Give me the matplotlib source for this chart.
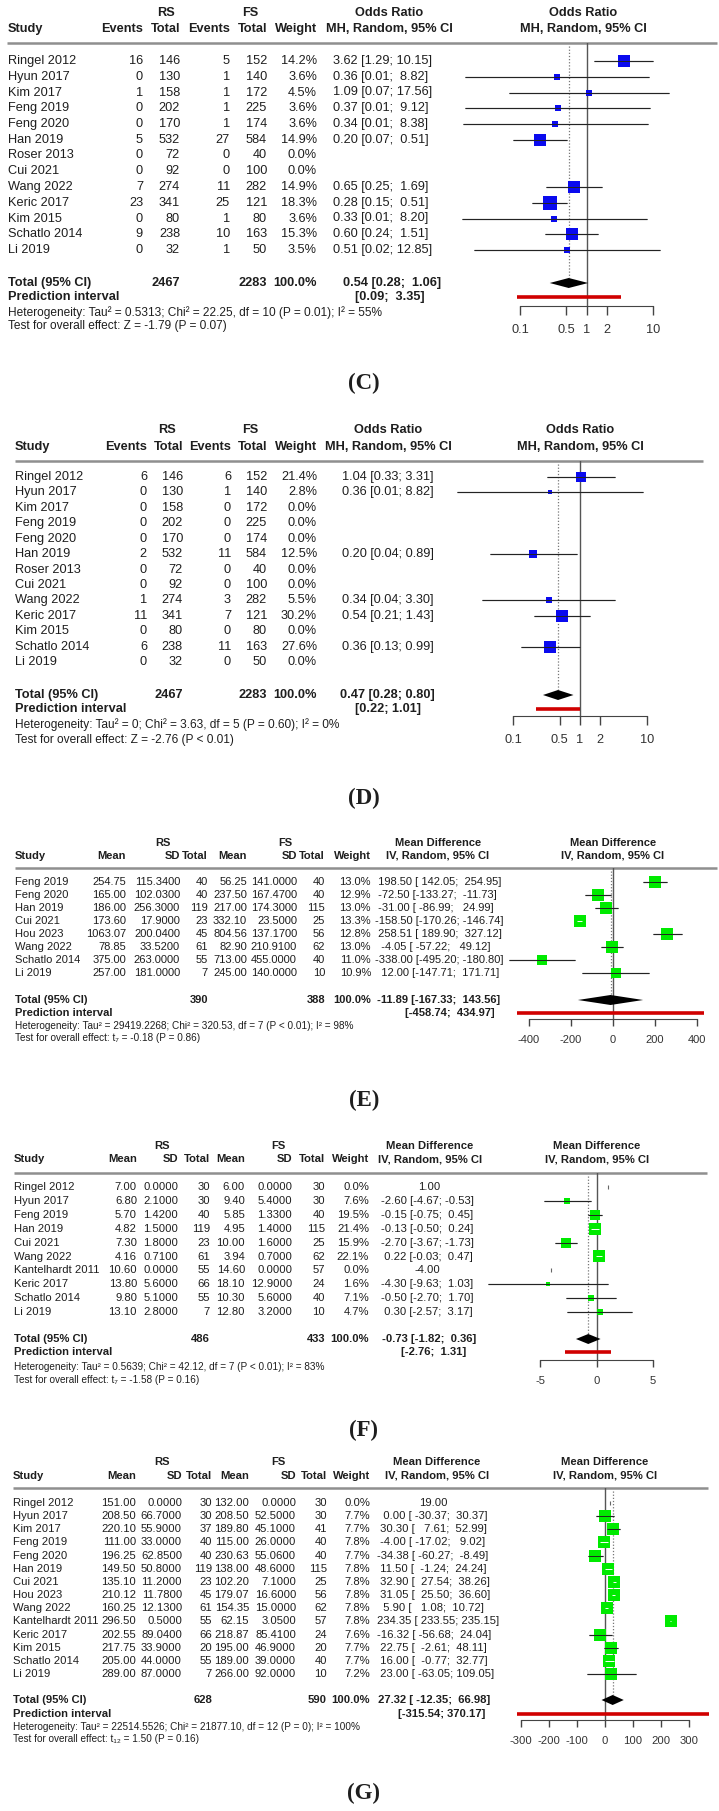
import numpy as np
import matplotlib.pyplot as plt
from matplotlib.ticker import NullLocator

W, H = 719, 1811
plt.rcParams['font.family'] = ['Liberation Sans', 'DejaVu Sans']
TXT = '#1e1e1e'
nan = np.nan

# ---------------- (C) binary outcome ----------------
studies_c = ["Ringel 2012", "Hyun 2017", "Kim 2017", "Feng 2019", "Feng 2020", "Han 2019", "Roser 2013",
             "Cui 2021", "Wang 2022", "Keric 2017", "Kim 2015", "Schatlo 2014", "Li 2019"]
rs_events_c = [16, 0, 1, 0, 0, 5, 0, 0, 7, 23, 0, 9, 0]
rs_total_c = [146, 130, 158, 202, 170, 532, 72, 92, 274, 341, 80, 238, 32]
fs_events_c = [5, 1, 1, 1, 1, 27, 0, 0, 11, 25, 1, 10, 1]
fs_total_c = [152, 140, 172, 225, 174, 584, 40, 100, 282, 121, 80, 163, 50]
weight_c = [14.2, 3.6, 4.5, 3.6, 3.6, 14.9, 0.0, 0.0, 14.9, 18.3, 3.6, 15.3, 3.5]
or_c = [3.62, 0.36, 1.09, 0.37, 0.34, 0.20, nan, nan, 0.65, 0.28, 0.33, 0.60, 0.51]
lo_c = [1.29, 0.01, 0.07, 0.01, 0.01, 0.07, nan, nan, 0.25, 0.15, 0.01, 0.24, 0.02]
hi_c = [10.15, 8.82, 17.56, 9.12, 8.38, 0.51, nan, nan, 1.69, 0.51, 8.20, 1.51, 12.85]
lo_drawn_c = [1.29, 0.0147, 0.068, 0.015, 0.0138, 0.078, nan, nan, 0.25, 0.154, 0.0133, 0.238, 0.0202]
total_c = (2467, 2283, 0.54, 0.28, 1.06)
pred_c = (0.09, 3.35)
het_c = "Heterogeneity: Tau² = 0.5313; Chi² = 22.25, df = 10 (P = 0.01); I² = 55%"
test_c = "Test for overall effect: Z = -1.79 (P = 0.07)"

# ---------------- (D) binary outcome ----------------
studies_d = studies_c
rs_events_d = [6, 0, 0, 0, 0, 2, 0, 0, 1, 11, 0, 6, 0]
rs_total_d = rs_total_c
fs_events_d = [6, 1, 0, 0, 0, 11, 0, 0, 3, 7, 0, 11, 0]
fs_total_d = fs_total_c
weight_d = [21.4, 2.8, 0.0, 0.0, 0.0, 12.5, 0.0, 0.0, 5.5, 30.2, 0.0, 27.6, 0.0]
or_d = [1.04, 0.36, nan, nan, nan, 0.20, nan, nan, 0.34, 0.54, nan, 0.36, nan]
lo_d = [0.33, 0.01, nan, nan, nan, 0.04, nan, nan, 0.04, 0.21, nan, 0.13, nan]
hi_d = [3.31, 8.82, nan, nan, nan, 0.89, nan, nan, 3.30, 1.43, nan, 0.99, nan]
lo_drawn_d = [0.327, 0.0147, nan, nan, nan, 0.045, nan, nan, 0.035, 0.204, nan, 0.131, nan]
total_d = (2467, 2283, 0.47, 0.28, 0.80)
pred_d = (0.22, 1.01)
het_d = "Heterogeneity: Tau² = 0; Chi² = 3.63, df = 5 (P = 0.60); I² = 0%"
test_d = "Test for overall effect: Z = -2.76 (P < 0.01)"

# ---------------- (E) continuous outcome ----------------
studies_e = ["Feng 2019", "Feng 2020", "Han 2019", "Cui 2021", "Hou 2023", "Wang 2022", "Schatlo 2014", "Li 2019"]
rs_mean_e = [254.75, 165.00, 186.00, 173.60, 1063.07, 78.85, 375.00, 257.00]
rs_sd_e = [115.34, 102.03, 256.30, 17.90, 200.04, 33.52, 263.00, 181.00]
rs_n_e = [40, 40, 119, 23, 45, 61, 55, 7]
fs_mean_e = [56.25, 237.50, 217.00, 332.10, 804.56, 82.90, 713.00, 245.00]
fs_sd_e = [141.00, 167.47, 174.30, 23.50, 137.17, 210.91, 455.00, 140.00]
fs_n_e = [40, 40, 115, 25, 56, 62, 40, 10]
weight_e = [13.0, 12.9, 13.0, 13.3, 12.8, 13.0, 11.0, 10.9]
md_e = [198.50, -72.50, -31.00, -158.50, 258.51, -4.05, -338.00, 12.00]
lo_e = [142.05, -133.27, -86.99, -170.26, 189.90, -57.22, -495.20, -147.71]
hi_e = [254.95, -11.73, 24.99, -146.74, 327.12, 49.12, -180.80, 171.71]
total_e = (390, 388, -11.89, -167.33, 143.56)
pred_e = (-458.74, 434.97)
het_e = "Heterogeneity: Tau² = 29419.2268; Chi² = 320.53, df = 7 (P < 0.01); I² = 98%"
test_e = "Test for overall effect: t₇ = -0.18 (P = 0.86)"

# ---------------- (F) continuous outcome ----------------
studies_f = ["Ringel 2012", "Hyun 2017", "Feng 2019", "Han 2019", "Cui 2021", "Wang 2022", "Kantelhardt 2011",
             "Keric 2017", "Schatlo 2014", "Li 2019"]
rs_mean_f = [7.00, 6.80, 5.70, 4.82, 7.30, 4.16, 10.60, 13.80, 9.80, 13.10]
rs_sd_f = [0.0, 2.10, 1.42, 1.50, 1.80, 0.71, 0.0, 5.60, 5.10, 2.80]
rs_n_f = [30, 30, 40, 119, 23, 61, 55, 66, 55, 7]
fs_mean_f = [6.00, 9.40, 5.85, 4.95, 10.00, 3.94, 14.60, 18.10, 10.30, 12.80]
fs_sd_f = [0.0, 5.40, 1.33, 1.40, 1.60, 0.70, 0.0, 12.90, 5.60, 3.20]
fs_n_f = [30, 30, 40, 115, 25, 62, 57, 24, 40, 10]
weight_f = [0.0, 7.6, 19.5, 21.4, 15.9, 22.1, 0.0, 1.6, 7.1, 4.7]
md_f = [1.00, -2.60, -0.15, -0.13, -2.70, 0.22, -4.00, -4.30, -0.50, 0.30]
lo_f = [nan, -4.67, -0.75, -0.50, -3.67, -0.03, nan, -9.63, -2.70, -2.57]
hi_f = [nan, -0.53, 0.45, 0.24, -1.73, 0.47, nan, 1.03, 1.70, 3.17]
total_f = (486, 433, -0.73, -1.82, 0.36)
pred_f = (-2.76, 1.31)
het_f = "Heterogeneity: Tau² = 0.5639; Chi² = 42.12, df = 7 (P < 0.01); I² = 83%"
test_f = "Test for overall effect: t₇ = -1.58 (P = 0.16)"

# ---------------- (G) continuous outcome ----------------
studies_g = ["Ringel 2012", "Hyun 2017", "Kim 2017", "Feng 2019", "Feng 2020", "Han 2019", "Cui 2021", "Hou 2023",
             "Wang 2022", "Kantelhardt 2011", "Keric 2017", "Kim 2015", "Schatlo 2014", "Li 2019"]
rs_mean_g = [151.00, 208.50, 220.10, 111.00, 196.25, 149.50, 135.10, 210.12, 160.25, 296.50, 202.55, 217.75, 205.00, 289.00]
rs_sd_g = [0.0, 66.70, 55.90, 33.00, 62.85, 50.80, 11.20, 11.78, 12.13, 0.50, 89.04, 33.90, 44.00, 87.00]
rs_n_g = [30, 30, 37, 40, 40, 119, 23, 45, 61, 55, 66, 20, 55, 7]
fs_mean_g = [132.00, 208.50, 189.80, 115.00, 230.63, 138.00, 102.20, 179.07, 154.35, 62.15, 218.87, 195.00, 189.00, 266.00]
fs_sd_g = [0.0, 52.50, 45.10, 26.00, 55.06, 48.60, 7.10, 16.60, 15.00, 3.05, 85.41, 46.90, 39.00, 92.00]
fs_n_g = [30, 30, 41, 40, 40, 115, 25, 56, 62, 57, 24, 20, 40, 10]
weight_g = [0.0, 7.7, 7.7, 7.8, 7.7, 7.8, 7.8, 7.8, 7.8, 7.8, 7.6, 7.7, 7.7, 7.2]
md_g = [19.00, 0.00, 30.30, -4.00, -34.38, 11.50, 32.90, 31.05, 5.90, 234.35, -16.32, 22.75, 16.00, 23.00]
lo_g = [nan, -30.37, 7.61, -17.02, -60.27, -1.24, 27.54, 25.50, 1.08, 233.55, -56.68, -2.61, -0.77, -63.05]
hi_g = [nan, 30.37, 52.99, 9.02, -8.49, 24.24, 38.26, 36.60, 10.72, 235.15, 24.04, 48.11, 32.77, 109.05]
total_g = (628, 590, 27.32, -12.35, 66.98)
pred_g = (-315.54, 370.17)
het_g = "Heterogeneity: Tau² = 22514.5526; Chi² = 21877.10, df = 12 (P = 0); I² = 100%"
test_g = "Test for overall effect: t₁₂ = 1.50 (P = 0.16)"

# ---------------- layout (pixels) ----------------
geo_c = dict(y_h1=13, y_h2=29, line_y=43, line_x=(7, 717), row0=61, dy=15.75, y_tot=283, y_pred=297,
             y_het=313, y_test=326, axis_y=306, ticks=[0.1, 0.5, 1, 2, 10], ticks_px=(520, 653), fh_x=583,
             cols=(8, 143, 180, 230, 267, 317), grp=(166, 250, 389), ci_x=333, tot_r=441, pred_r=425,
             widths=(4, 4, 5), label_y=383, k=3.16, fs=9.2, fs_het=8.6, tick_len=6.5)
geo_d = dict(y_h1=430, y_h2=447, line_y=461, line_x=(15, 703), row0=477, dy=15.42, y_tot=695, y_pred=709,
             y_het=725, y_test=740, axis_y=716, ticks=[0.1, 0.5, 1, 2, 10], ticks_px=(513, 647), fh_x=580,
             cols=(15, 147, 183, 231, 267, 317), grp=(167, 250, 388), ci_x=342, tot_r=435, pred_r=421,
             widths=(4, 4, 4), label_y=798, k=2.31, fs=9.2, fs_het=8.6, tick_len=6.5)
geo_e = dict(y_h1=843, y_h2=856, line_y=868, line_x=(15, 717), row0=882, dy=13.0, y_tot=1000, y_pred=1013,
             y_het=1026, y_test=1038, axis_y=1019, ticks=[-400, -200, 0, 200, 400], ticks_px=(529, 697), fh_x=613,
             cols=(15, 126, 180, 208, 247, 297, 325, 371), grp=(163, 285, 438), ci_x=375, tot_r=500, pred_r=495,
             widths=(7, 7, 7), est0_r=440, label_y=1100, k=3.1, fs=8.0, fs_het=7.2, tick_len=5)
geo_f = dict(y_h1=1146, y_h2=1159, line_y=1173, line_x=(14, 707), row0=1187, dy=13.9, y_tot=1339, y_pred=1352,
             y_het=1367, y_test=1380, axis_y=1360, ticks=[-5, 0, 5], ticks_px=(540, 653), fh_x=597,
             cols=(14, 137, 178, 210, 245, 292, 325, 369), grp=(162, 278, 430), ci_x=381, tot_r=476, pred_r=466,
             widths=(5, 5, 5), est0_r=440, label_y=1430, k=2.49, fs=8.1, fs_het=7.2, tick_len=5)
geo_g = dict(y_h1=1462, y_h2=1476, line_y=1488, line_x=(13, 708), row0=1503, dy=13.15, y_tot=1700, y_pred=1714,
             y_het=1727, y_test=1739, axis_y=1720, ticks=[-300, -200, -100, 0, 100, 200, 300], ticks_px=(521, 689),
             fh_x=605, cols=(13, 136, 182, 212, 249, 296, 327, 370), grp=(162, 278, 437), ci_x=377, tot_r=490,
             pred_r=485, widths=(6, 7, 6), est0_r=448, label_y=1793, k=4.19, fs=8.1, fs_het=7.2, tick_len=5)

fig = plt.figure(figsize=(W / 100, H / 100), dpi=100)
bg = fig.add_axes([0, 0, 1, 1])
bg.set_xlim(0, W)
bg.set_ylim(H, 0)
bg.axis('off')


def txt(x, y, s, ha='left', size=9.2, bold=False, **kw):
    bg.text(x, y, s, ha=ha, va='center', fontsize=size, fontweight='bold' if bold else 'normal',
            color=TXT, **kw)


def fmt_ci(est, lo, hi, widths):
    we, wl, wh = widths
    return f"{est:{we}.2f} [{lo:{wl}.2f}; {hi:{wh}.2f}]"


def fmt_pred(lo, hi, widths):
    return f"[{lo:{widths[1]}.2f}; {hi:{widths[2]}.2f}]"


def footer(g, label, tot_cols, tot_vals, tot, pred):
    fs = g['fs']
    txt(g['cols'][0], g['y_tot'], "Total (95% CI)", size=fs, bold=True)
    for x, v in zip(tot_cols, tot_vals):
        txt(x, g['y_tot'], str(v), ha='right', size=fs, bold=True)
    txt(g['cols'][-1], g['y_tot'], "100.0%", ha='right', size=fs, bold=True)
    txt(g['tot_r'], g['y_tot'], fmt_ci(tot[2], tot[3], tot[4], g['widths']), ha='right', size=fs, bold=True)
    txt(g['cols'][0], g['y_pred'], "Prediction interval", size=fs, bold=True)
    txt(g['pred_r'], g['y_pred'], fmt_pred(pred[0], pred[1], g['widths']), ha='right', size=fs, bold=True)
    txt(g['cols'][0], g['y_het'], label[0], size=g['fs_het'])
    txt(g['cols'][0], g['y_test'], label[1], size=g['fs_het'])


def forest(g, est, lo, hi, wt, tot, pred, color, log, head):
    x0, x1 = 440, 719
    ytop, ybot = g['line_y'], g['axis_y']
    ax = fig.add_axes([x0 / W, 1 - ybot / H, (x1 - x0) / W, (ybot - ytop) / H])
    ax.patch.set_alpha(0)
    f = np.log10 if log else (lambda v: v)
    ta, tb = g['ticks'][0], g['ticks'][-1]
    pa, pb = g['ticks_px']
    per_px = (f(tb) - f(ta)) / (pb - pa)
    lim = (f(ta) + (x0 - pa) * per_px, f(ta) + (x1 - pa) * per_px)
    if log:
        ax.set_xscale('log')
        ax.set_xlim(10 ** lim[0], 10 ** lim[1])
    else:
        ax.set_xlim(*lim)
    ax.set_ylim(ybot, ytop)

    def px(v):
        return pa + (f(v) - f(ta)) / per_px

    null = 1 if log else 0
    ax.axvline(null, color='#555555', lw=1.0, zorder=1)
    ax.plot([tot[2], tot[2]], [ytop + 3, g['y_tot'] - 5], ls=(0, (1, 1.5)), color='#777777', lw=0.9, zorder=1)
    for i in range(len(est)):
        y = g['row0'] + i * g['dy']
        if np.isnan(est[i]):
            continue
        if wt[i] == 0:
            ax.plot([est[i]], [y], marker='|', ms=3, color='#666666', mew=0.8, zorder=3)
            continue
        side = g['k'] * np.sqrt(wt[i])
        ax.plot([lo[i], hi[i]], [y, y], color='#555555', lw=0.9, zorder=2, solid_capstyle='butt')
        ax.scatter([est[i]], [y], marker='s', s=(side * 0.72) ** 2, color=color, linewidths=0, zorder=3)
        inside = (px(hi[i]) - px(lo[i])) < side
        ax.plot([lo[i], hi[i]], [y, y], color='white' if inside else '#222222', lw=0.7, zorder=4,
                solid_capstyle='butt')
    yd = g['y_tot']
    ax.fill([tot[3], tot[2], tot[4], tot[2]], [yd, yd - 5, yd, yd + 5], color='black', lw=0, zorder=5)
    ax.plot([pred[0], pred[1]], [g['y_pred'], g['y_pred']], color='#d00000', lw=2.6,
            solid_capstyle='butt', zorder=5)

    for s in ['top', 'left', 'right']:
        ax.spines[s].set_visible(False)
    ax.spines['bottom'].set_bounds(ta, tb)
    ax.spines['bottom'].set_color('#444444')
    ax.set_xticks(g['ticks'])
    ax.set_xticklabels([f"{t:g}" for t in g['ticks']])
    ax.xaxis.set_minor_locator(NullLocator())
    ax.set_yticks([])
    ax.tick_params(axis='x', direction='out', length=g['tick_len'], width=1.0, color='#444444',
                   labelsize=g['fs'], labelcolor='#333333', pad=6.5)
    txt(g['fh_x'], g['y_h1'], head[0], ha='center', size=g['fs'], bold=True)
    txt(g['fh_x'], g['y_h2'], head[1], ha='center', size=g['fs'], bold=True)


def header_line(g):
    bg.plot(g['line_x'], [g['line_y'], g['line_y']], color='#8f8f8f', lw=1.8, solid_capstyle='butt')


def binary_panel(g, studies, rs_ev, rs_tot, fs_ev, fs_tot, wt, est, lo, hi, lo_drawn, tot, pred, het, test,
                 panel):
    fs = g['fs']
    sx, c_ev1, c_t1, c_ev2, c_t2, c_w = g['cols']
    txt(g['grp'][0], g['y_h1'], "RS", ha='center', size=fs, bold=True)
    txt(g['grp'][1], g['y_h1'], "FS", ha='center', size=fs, bold=True)
    txt(g['grp'][2], g['y_h1'], "Odds Ratio", ha='center', size=fs, bold=True)
    txt(sx, g['y_h2'], "Study", size=fs, bold=True)
    for x, s in [(c_ev1, "Events"), (c_t1, "Total"), (c_ev2, "Events"), (c_t2, "Total"), (c_w, "Weight")]:
        txt(x, g['y_h2'], s, ha='right', size=fs, bold=True)
    txt(g['grp'][2], g['y_h2'], "MH, Random, 95% CI", ha='center', size=fs, bold=True)
    header_line(g)
    for i, name in enumerate(studies):
        y = g['row0'] + i * g['dy']
        txt(sx, y, name, size=fs)
        txt(c_ev1, y, str(rs_ev[i]), ha='right', size=fs)
        txt(c_t1, y, str(rs_tot[i]), ha='right', size=fs)
        txt(c_ev2, y, str(fs_ev[i]), ha='right', size=fs)
        txt(c_t2, y, str(fs_tot[i]), ha='right', size=fs)
        txt(c_w, y, f"{wt[i]:.1f}%", ha='right', size=fs)
        if not np.isnan(est[i]):
            txt(g['ci_x'], y, fmt_ci(est[i], lo[i], hi[i], g['widths']), size=fs)
    footer(g, (het, test), (c_t1, c_t2), tot[:2], tot, pred)
    forest(g, est, lo_drawn, hi, wt, tot, pred, '#0a0aee', True, ("Odds Ratio", "MH, Random, 95% CI"))
    txt(364, g['label_y'], panel, ha='center', size=16.5, bold=True, family='Liberation Serif')


def cont_panel(g, studies, m1, s1, n1, m2, s2, n2, wt, est, lo, hi, tot, pred, het, test, panel):
    fs = g['fs']
    sx, cm1, cs1, cn1, cm2, cs2, cn2, cw = g['cols']
    txt(g['grp'][0], g['y_h1'], "RS", ha='center', size=fs, bold=True)
    txt(g['grp'][1], g['y_h1'], "FS", ha='center', size=fs, bold=True)
    txt(g['grp'][2], g['y_h1'], "Mean Difference", ha='center', size=fs, bold=True)
    txt(sx, g['y_h2'], "Study", size=fs, bold=True)
    for x, s in [(cm1, "Mean"), (cs1, "SD"), (cn1, "Total"), (cm2, "Mean"), (cs2, "SD"), (cn2, "Total"),
                 (cw, "Weight")]:
        txt(x, g['y_h2'], s, ha='right', size=fs, bold=True)
    txt(g['grp'][2], g['y_h2'], "IV, Random, 95% CI", ha='center', size=fs, bold=True)
    header_line(g)
    for i, name in enumerate(studies):
        y = g['row0'] + i * g['dy']
        txt(sx, y, name, size=fs)
        txt(cm1, y, f"{m1[i]:.2f}", ha='right', size=fs)
        txt(cs1, y, f"{s1[i]:.4f}", ha='right', size=fs)
        txt(cn1, y, str(n1[i]), ha='right', size=fs)
        txt(cm2, y, f"{m2[i]:.2f}", ha='right', size=fs)
        txt(cs2, y, f"{s2[i]:.4f}", ha='right', size=fs)
        txt(cn2, y, str(n2[i]), ha='right', size=fs)
        txt(cw, y, f"{wt[i]:.1f}%", ha='right', size=fs)
        if np.isnan(lo[i]):
            txt(g['est0_r'], y, f"{est[i]:.2f}", ha='right', size=fs)
        else:
            txt(g['ci_x'], y, fmt_ci(est[i], lo[i], hi[i], g['widths']), size=fs)
    footer(g, (het, test), (cn1, cn2), tot[:2], tot, pred)
    forest(g, est, lo, hi, wt, tot, pred, '#00ea00', False, ("Mean Difference", "IV, Random, 95% CI"))
    txt(364, g['label_y'], panel, ha='center', size=16.5, bold=True, family='Liberation Serif')


binary_panel(geo_c, studies_c, rs_events_c, rs_total_c, fs_events_c, fs_total_c, weight_c, or_c, lo_c, hi_c,
             lo_drawn_c, total_c, pred_c, het_c, test_c, "(C)")
binary_panel(geo_d, studies_d, rs_events_d, rs_total_d, fs_events_d, fs_total_d, weight_d, or_d, lo_d, hi_d,
             lo_drawn_d, total_d, pred_d, het_d, test_d, "(D)")
cont_panel(geo_e, studies_e, rs_mean_e, rs_sd_e, rs_n_e, fs_mean_e, fs_sd_e, fs_n_e, weight_e, md_e, lo_e, hi_e,
           total_e, pred_e, het_e, test_e, "(E)")
cont_panel(geo_f, studies_f, rs_mean_f, rs_sd_f, rs_n_f, fs_mean_f, fs_sd_f, fs_n_f, weight_f, md_f, lo_f, hi_f,
           total_f, pred_f, het_f, test_f, "(F)")
cont_panel(geo_g, studies_g, rs_mean_g, rs_sd_g, rs_n_g, fs_mean_g, fs_sd_g, fs_n_g, weight_g, md_g, lo_g, hi_g,
           total_g, pred_g, het_g, test_g, "(G)")

fig.savefig("out.png", dpi=100, facecolor='white')
